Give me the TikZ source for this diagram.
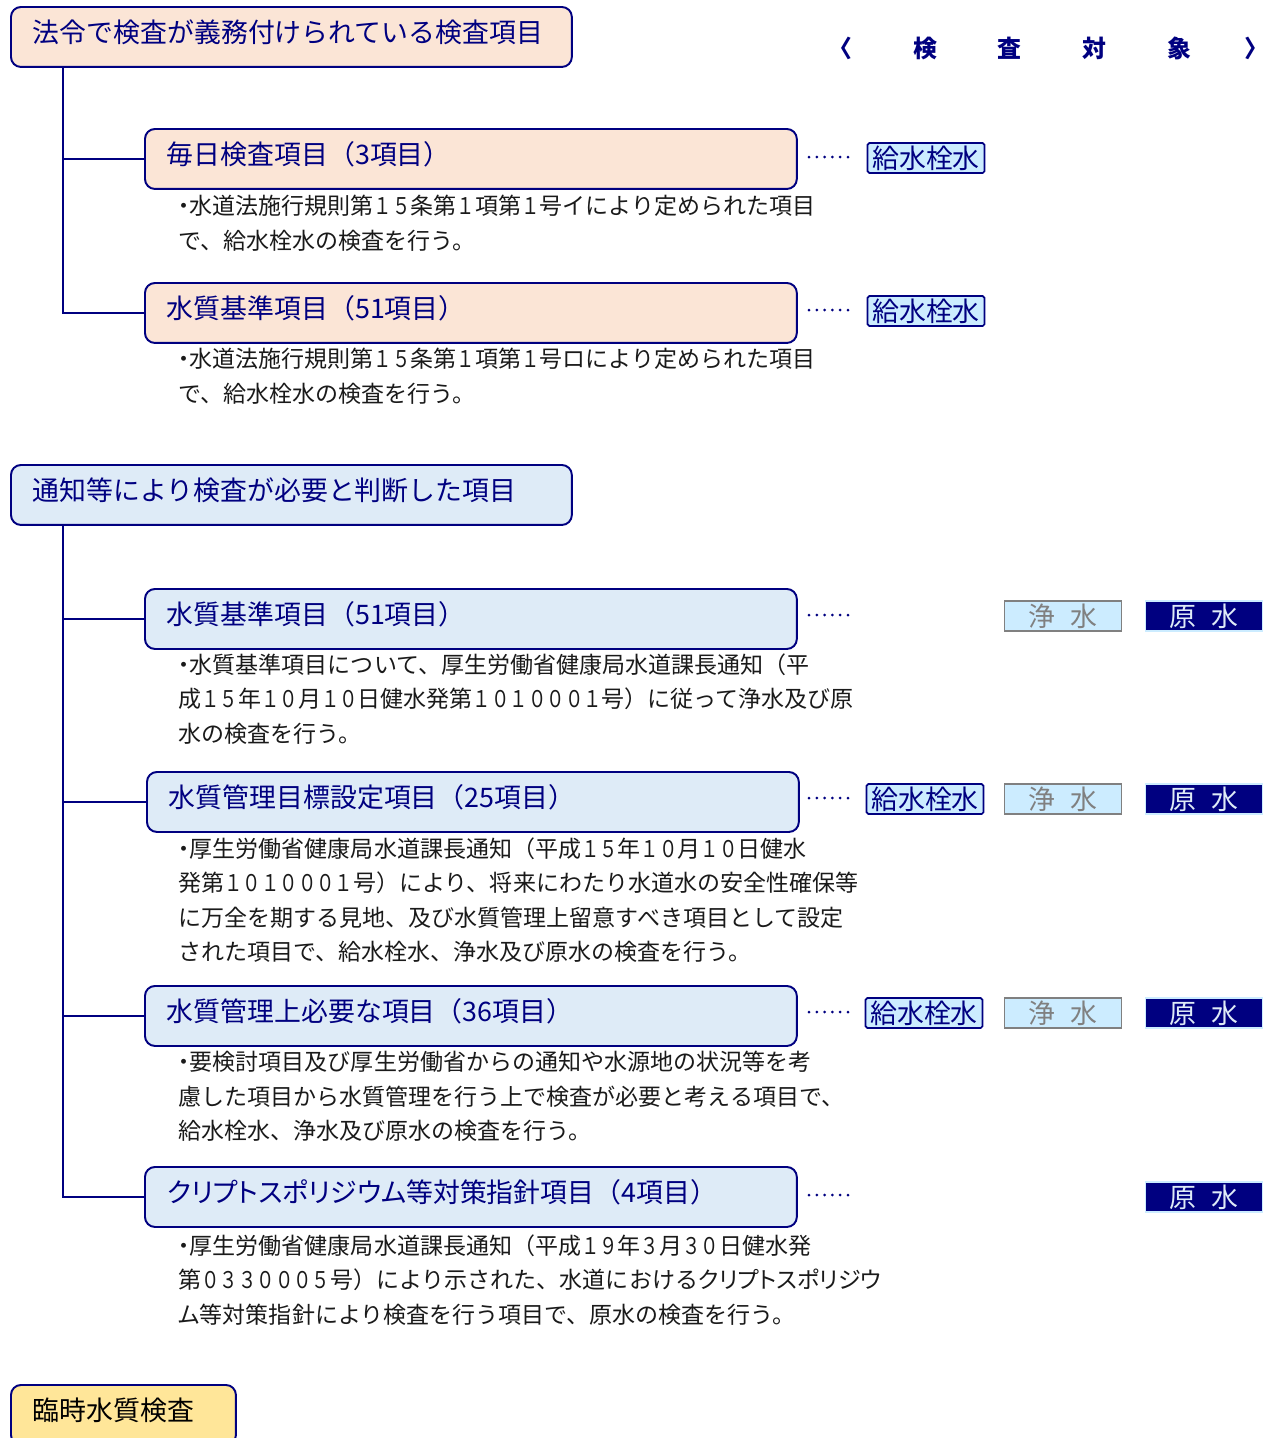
\documentclass[tikz,border=0pt]{standalone}
\usepackage{fontspec}
\setmainfont{Noto Sans CJK JP}
\newfontfamily\numfont[FakeStretch=0.8]{Noto Sans CJK JP}
\newfontfamily\propfont[RawFeature=+palt]{Noto Sans CJK JP}
\newcommand\nm[1]{{\numfont #1}}
\newcommand\pp[1]{{\propfont #1}}
\definecolor{navy}{HTML}{000080}
\definecolor{peach}{HTML}{FBE5D6}
\definecolor{paleblue}{HTML}{DEEBF7}
\definecolor{lemon}{HTML}{FFE699}
\definecolor{tagblue}{HTML}{CCECFF}
\definecolor{tagrey}{HTML}{808080}
\definecolor{ink}{HTML}{1A1A1A}
\newcommand\titlefont{\fontsize{15.3}{18}\selectfont}
\newcommand\descfont{\fontsize{13.1}{19.64}\selectfont}
\tikzset{
  grp/.style={draw=navy, line width=1.1pt, rounded corners=0.2cm, anchor=north west,
    minimum height=1.2cm, inner xsep=0.44cm, align=left, font=\titlefont, text=navy,
    text height=0.8em, text depth=0.19em},
  head/.style={grp, text width=10.34cm},
  item/.style={grp, text width=12.16cm},
  desc/.style={anchor=north west, align=left, inner sep=0pt, font=\descfont, text=ink},
  tag/.style={minimum width=2.34cm, minimum height=0.6cm, inner sep=0pt, font=\titlefont, line width=1pt},
  kyu/.style={tag, draw=navy, fill=tagblue, text=navy, rounded corners=1pt},
  jo/.style={tag, draw=tagrey, fill=tagblue, text=tagrey},
  gen/.style={tag, draw=tagblue, fill=navy, text=paleblue},
  trunk/.style={navy, line width=1.1pt}
}
\begin{document}
\begin{tikzpicture}[x=0.02cm,y=-0.02cm]
  \clip (0,0) rectangle (1268,1438);
  % --- column header ---
  \foreach \c/\x [count=\i] in {〈/845,検/925,査/1009,対/1094,象/1179,〉/1251}
    \node[navy,inner sep=0pt,font=\fontsize{13.6}{16}\selectfont\propfont\bfseries] (h\i) at (\x,48) {\c};
  % --- items required by law ---
  \node[head,fill=peach] (hdr1) at (10,6) {法令で検査が義務付けられている検査項目};
  \node[item,fill=peach] (daily) at (144,128) {毎日検査項目（3項目）};
  \node[desc] (d1) at (178,195) {\pp{・}水道法施行規則第\nm{１５}条第\nm{１}項第\nm{１}号イにより定められた項目\\で、給水栓水の検査を行う。};
  \node[item,fill=peach] (std1) at (144,282) {水質基準項目（51項目）};
  \node[desc] (d2) at (178,348) {\pp{・}水道法施行規則第\nm{１５}条第\nm{１}項第\nm{１}号ロにより定められた項目\\で、給水栓水の検査を行う。};
  \draw[trunk] ([xshift=1.06cm]hdr1.south west) |- (daily.west);
  \draw[trunk] ([xshift=1.06cm]hdr1.south west) |- (std1.west);
  % --- items judged necessary ---
  \node[head,fill=paleblue] (hdr2) at (10,464) {通知等により検査が必要と判断した項目};
  \node[item,fill=paleblue] (std2) at (144,588) {水質基準項目（51項目）};
  \node[desc] (d3) at (178,653) {\pp{・}水質基準項目について、厚生労働省健康局水道課長通知（平\\成\nm{１５}年\nm{１０}月\nm{１０}日健水発第\nm{１０１０００１}号）に従って浄水及び原\\水の検査を行う。};
  \node[item,fill=paleblue] (goal) at (146,771) {水質管理目標設定項目（25項目）};
  \node[desc] (d4) at (178,837) {\pp{・}厚生労働省健康局水道課長通知（平成\nm{１５}年\nm{１０}月\nm{１０}日健水\\発第\nm{１０１０００１}号）により、将来にわたり水道水の安全性確保等\\に万全を期する見地、及び水質管理上留意すべき項目として設定\\された項目で、給水栓水、浄水及び原水の検査を行う。};
  \node[item,fill=paleblue] (need) at (144,985) {水質管理上必要な項目（36項目）};
  \node[desc] (d5) at (178,1051) {\pp{・}要検討項目及び厚生労働省からの通知や水源地の状況等を考\\慮した項目から水質管理を行う上で検査が必要と考える項目で、\\給水栓水、浄水及び原水の検査を行う。};
  \node[item,fill=paleblue] (crypto) at (144,1166) {\pp{クリプトスポリジウム}等対策指針項目（4項目）};
  \node[desc] (d6) at (178,1234) {\pp{・}厚生労働省健康局水道課長通知（平成\nm{１９}年\nm{３}月\nm{３０}日健水発\\第\nm{０３３０００５}号）により示された、水道における\pp{クリプトスポリジウ}\\\pp{ム}等対策指針により検査を行う項目で、原水の検査を行う。};
  \foreach \t in {std2,goal,need,crypto}
    \draw[trunk] ([xshift=1.06cm]hdr2.south west) |- (\t.west);
  % --- leader dots ---
  \foreach \y in {157,310,615,798,1012,1195}
    \foreach \k in {0,...,5} \fill[navy] (809+7.8*\k,\y) circle (1.5);
  % --- targets ---
  \node[kyu] (k1) at (926,158) {給水栓水};
  \node[kyu] (k2) at (926,311) {給水栓水};
  \node[jo]  (j3) at (1063,616) {浄\hspace{0.55em}水};
  \node[gen] (g3) at (1204,616) {原\hspace{0.55em}水};
  \node[kyu] (k4) at (925,799) {給水栓水};
  \node[jo]  (j4) at (1063,799) {浄\hspace{0.55em}水};
  \node[gen] (g4) at (1204,799) {原\hspace{0.55em}水};
  \node[kyu] (k5) at (924,1013) {給水栓水};
  \node[jo]  (j5) at (1063,1013) {浄\hspace{0.55em}水};
  \node[gen] (g5) at (1204,1013) {原\hspace{0.55em}水};
  \node[gen] (g6) at (1204,1197) {原\hspace{0.55em}水};
  % --- temporary tests ---
  \node[grp,fill=lemon,text=black,text width=3.62cm] (hdr3) at (10,1384) {臨時水質検査};
\end{tikzpicture}
\end{document}
